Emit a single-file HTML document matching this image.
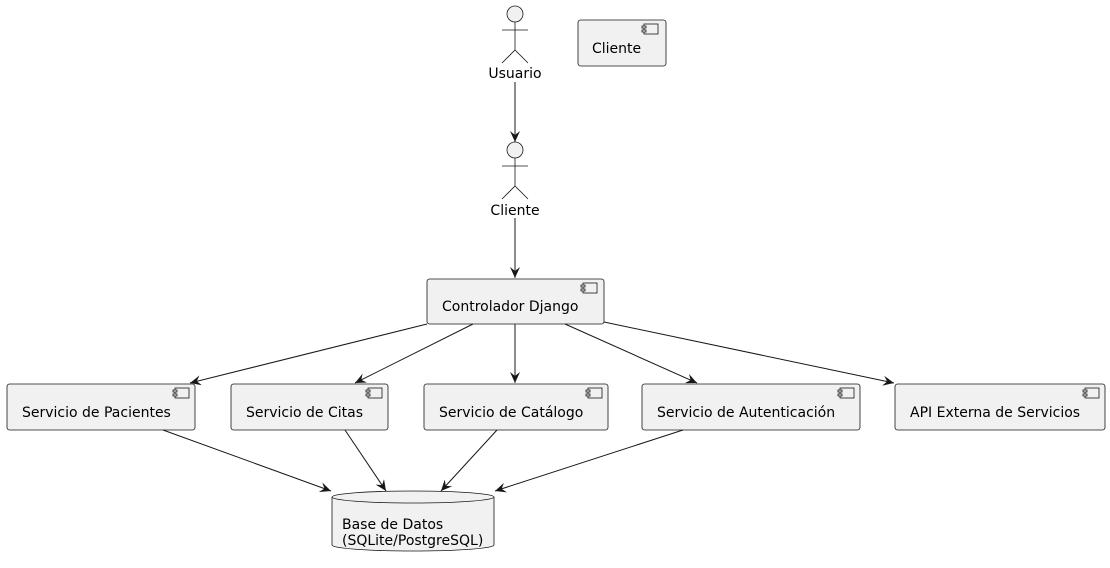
<!DOCTYPE html>
<html><head><meta charset="utf-8"><style>
html,body{margin:0;padding:0;background:#fff;}
svg{display:block;}
text{font-family:"DejaVu Sans","Liberation Sans",sans-serif;font-size:14px;fill:#000;}
</style></head><body>
<svg width="1110" height="568" viewBox="0 0 1110 568" xmlns="http://www.w3.org/2000/svg">
<defs>
<marker id="a" viewBox="0 0 12 10" refX="11" refY="5" markerWidth="12" markerHeight="10" markerUnits="userSpaceOnUse" orient="auto">
<path d="M0,0 L11,5 L0,10 L4,5 Z" fill="#181818"/>
</marker>
<g id="comp"><rect x="0" y="0" width="14" height="10" fill="#f1f1f1" stroke="#181818" stroke-width="0.8"/><rect x="-2" y="2" width="4" height="2" fill="#f1f1f1" stroke="#181818" stroke-width="0.8"/><rect x="-2" y="6" width="4" height="2" fill="#f1f1f1" stroke="#181818" stroke-width="0.8"/></g>
</defs>
<g fill="#f1f1f1" stroke="#181818" stroke-width="0.8">
<!-- actor Usuario -->
<circle cx="515" cy="14" r="8"/>
<path d="M515,22 V50 M502,30 H528 M502,63 L515,50 L528,63" fill="none"/>
<!-- actor Cliente -->
<circle cx="515" cy="150" r="8"/>
<path d="M515,158 V186 M502,166 H528 M502,199 L515,186 L528,199" fill="none"/>
<rect x="578" y="20" width="88" height="46" rx="2.5"/>
<rect x="427" y="279" width="177" height="45" rx="2.5"/>
<rect x="7" y="384" width="188" height="46" rx="2.5"/>
<rect x="231" y="384" width="157" height="46" rx="2.5"/>
<rect x="424" y="384" width="184" height="46" rx="2.5"/>
<rect x="642" y="384" width="218" height="46" rx="2.5"/>
<rect x="895" y="384" width="210" height="46" rx="2.5"/>
<path d="M332,497 A81,6 0 0 1 494,497 V545 A81,6 0 0 1 332,545 Z"/>
<path d="M332,497 A81,6 0 0 0 494,497" fill="none"/>
</g>
<use href="#comp" x="644" y="24"/>
<use href="#comp" x="583" y="283"/>
<use href="#comp" x="175" y="388"/>
<use href="#comp" x="368" y="388"/>
<use href="#comp" x="588" y="388"/>
<use href="#comp" x="840" y="388"/>
<use href="#comp" x="1085" y="388"/>
<g stroke="#181818" stroke-width="1" fill="none" marker-end="url(#a)">
<line x1="515" y1="82" x2="515" y2="142"/>
<line x1="515" y1="218" x2="515" y2="278"/>
<line x1="427" y1="324" x2="190" y2="383"/>
<line x1="473" y1="324" x2="355" y2="383"/>
<line x1="515" y1="324" x2="515" y2="383"/>
<line x1="565" y1="324" x2="697" y2="383"/>
<line x1="604" y1="322" x2="894" y2="383"/>
<line x1="163" y1="430" x2="331" y2="491"/>
<line x1="345" y1="430" x2="386" y2="491"/>
<line x1="497" y1="430" x2="441" y2="491"/>
<line x1="683" y1="430" x2="495" y2="491"/>
</g>
<text x="515" y="78" text-anchor="middle">Usuario</text>
<text x="515" y="215" text-anchor="middle">Cliente</text>
<text x="592" y="53">Cliente</text>
<text x="442" y="311">Controlador Django</text>
<text x="22" y="417">Servicio de Pacientes</text>
<text x="246" y="417">Servicio de Citas</text>
<text x="439" y="417">Servicio de Catálogo</text>
<text x="657" y="417">Servicio de Autenticación</text>
<text x="910" y="417">API Externa de Servicios</text>
<text x="342" y="529">Base de Datos</text>
<text x="342" y="545">(SQLite/PostgreSQL)</text>
</svg>
</body></html>
